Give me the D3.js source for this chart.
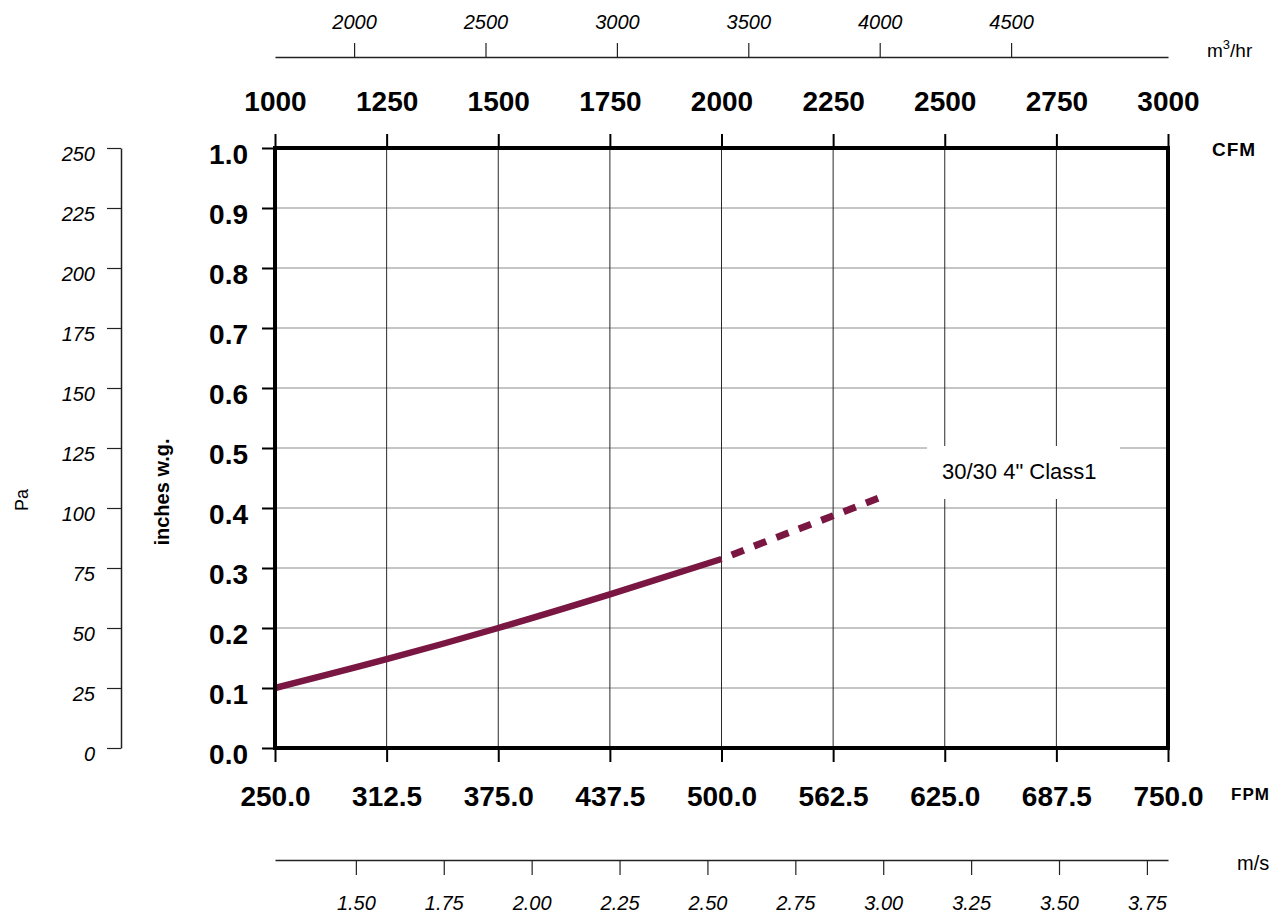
<!DOCTYPE html>
<html>
<head>
<meta charset="utf-8">
<script src="https://cdn.jsdelivr.net/npm/d3@7"></script>
<style>
  body { margin: 0; background: #fff; }
  svg text { font-family: "Liberation Sans", Arial, sans-serif; fill: #000; }
</style>
</head>
<body>
<div id="plotarea"></div>
<script>
// curve (FPM -> inches w.g.)
var fpmSolid = [250, 312.5, 375, 437.5, 500];
var inwgSolid = [0.100, 0.148, 0.200, 0.256, 0.315];
var fpmDashed = [500, 523, 562.5, 589];
var inwgDashed = [0.315, 0.342, 0.387, 0.418];
var seriesName = '30/30 4" Class1';

// tick labels
var cfmTicks = [1000, 1250, 1500, 1750, 2000, 2250, 2500, 2750, 3000];
var fpmTicks = [250, 312.5, 375, 437.5, 500, 562.5, 625, 687.5, 750];
var inwgTicks = [0, 0.1, 0.2, 0.3, 0.4, 0.5, 0.6, 0.7, 0.8, 0.9, 1.0];
var paTicks = [0, 25, 50, 75, 100, 125, 150, 175, 200, 225, 250];
var m3hTicks = [2000, 2500, 3000, 3500, 4000, 4500];
var msTicks = [1.50, 1.75, 2.00, 2.25, 2.50, 2.75, 3.00, 3.25, 3.50, 3.75];

var W = 1284, H = 917;
var pLeft = 275, pRight = 1168, pTop = 148, pBottom = 748;

var svg = d3.select("#plotarea").append("svg")
  .attr("width", W).attr("height", H);

var x = d3.scaleLinear().domain([250, 750]).range([pLeft, pRight]);
var xCfm = d3.scaleLinear().domain([1000, 3000]).range([pLeft, pRight]);
var xM3h = d3.scaleLinear().domain([1000 * 1.69901, 3000 * 1.69901]).range([pLeft, pRight]);
var xMs = d3.scaleLinear().domain([250 * 0.00508, 750 * 0.00508]).range([pLeft, pRight]);
var y = d3.scaleLinear().domain([0, 1]).range([pBottom, pTop]);
var yPa = d3.scaleLinear().domain([0, 250]).range([pBottom, pTop]);

// grid
svg.append("g").selectAll("line").data(inwgTicks).enter().append("line")
  .attr("x1", pLeft).attr("x2", pRight)
  .attr("y1", function(d) { return y(d); }).attr("y2", function(d) { return y(d); })
  .attr("stroke", "#8c8c8c").attr("stroke-width", 1);
svg.append("g").selectAll("line").data(cfmTicks).enter().append("line")
  .attr("x1", function(d) { return xCfm(d); }).attr("x2", function(d) { return xCfm(d); })
  .attr("y1", pTop).attr("y2", pBottom)
  .attr("stroke", "#2a2a2a").attr("stroke-width", 1);

// label box over the grid
svg.append("rect").attr("x", 927).attr("y", 446).attr("width", 193).attr("height", 53)
  .attr("fill", "#fff");
svg.append("text").attr("x", 942).attr("y", 479)
  .style("font-size", "22px").text(seriesName);

// curve
var line = d3.line()
  .x(function(d) { return x(d[0]); })
  .y(function(d) { return y(d[1]); })
  .curve(d3.curveMonotoneX);

svg.append("path").datum(d3.zip(fpmSolid, inwgSolid))
  .attr("d", line).attr("fill", "none")
  .attr("stroke", "#7a1642").attr("stroke-width", 6.5);
svg.append("path").datum(d3.zip(fpmDashed, inwgDashed))
  .attr("d", line).attr("fill", "none")
  .attr("stroke", "#7a1642").attr("stroke-width", 7)
  .attr("stroke-dasharray", "13,11").attr("stroke-dashoffset", 13);

// main axes
function bigAxis(g) {
  g.select(".domain").remove();
  g.selectAll(".tick line").attr("stroke", "#000").attr("stroke-width", 2);
  g.selectAll("text").style("font-size", "28px").style("font-weight", "bold");
}

svg.append("g").attr("transform", "translate(0," + pTop + ")")
  .call(d3.axisTop(xCfm).tickValues(cfmTicks).tickSize(14).tickSizeOuter(0).tickFormat(d3.format("d")))
  .call(bigAxis)
  .call(function(g) { g.selectAll("text").attr("y", -37).attr("dy", 0); });

svg.append("g").attr("transform", "translate(0," + pBottom + ")")
  .call(d3.axisBottom(x).tickValues(fpmTicks).tickSize(14).tickSizeOuter(0).tickFormat(d3.format(".1f")))
  .call(bigAxis)
  .call(function(g) { g.selectAll("text").attr("y", 58).attr("dy", 0); });

svg.append("g").attr("transform", "translate(" + pLeft + ",0)")
  .call(d3.axisLeft(y).tickValues(inwgTicks).tickSize(13).tickSizeOuter(0).tickFormat(d3.format(".1f")))
  .call(bigAxis)
  .call(function(g) { g.selectAll("text").attr("x", -27).attr("dy", 15); });

// frame
svg.append("rect").attr("x", pLeft).attr("y", pTop)
  .attr("width", pRight - pLeft).attr("height", pBottom - pTop)
  .attr("fill", "none").attr("stroke", "#000").attr("stroke-width", 4);

// secondary axes
function smallAxis(g) {
  g.select(".domain").attr("stroke", "#222").attr("stroke-width", 1.5);
  g.selectAll(".tick line").attr("stroke", "#222").attr("stroke-width", 1.2);
  g.selectAll("text").style("font-size", "20px").style("font-style", "italic");
}

svg.append("g").attr("transform", "translate(0,57)")
  .call(d3.axisTop(xM3h).tickValues(m3hTicks).tickSize(14).tickSizeOuter(0).tickFormat(d3.format("d")))
  .call(smallAxis)
  .call(function(g) { g.selectAll("text").attr("y", -28).attr("dy", 0); });

svg.append("g").attr("transform", "translate(0,860)")
  .call(d3.axisBottom(xMs).tickValues(msTicks).tickSize(15).tickSizeOuter(0).tickFormat(d3.format(".2f")))
  .call(smallAxis)
  .call(function(g) { g.selectAll("text").attr("y", 50).attr("dy", 0); });

svg.append("g").attr("transform", "translate(121,0)")
  .call(d3.axisLeft(yPa).tickValues(paTicks).tickSize(14).tickSizeOuter(0).tickFormat(d3.format("d")))
  .call(smallAxis)
  .call(function(g) { g.selectAll("text").attr("x", -26).attr("dy", 12); });

// unit labels
svg.append("text").attr("x", 1212).attr("y", 156)
  .style("font-size", "19px").style("font-weight", "bold").style("letter-spacing", "1px").text("CFM");
svg.append("text").attr("x", 1231).attr("y", 800)
  .style("font-size", "17px").style("font-weight", "bold").style("letter-spacing", "1px").text("FPM");
var m3 = svg.append("text").attr("x", 1207).attr("y", 57).style("font-size", "19px");
m3.append("tspan").text("m");
m3.append("tspan").attr("dy", -8).style("font-size", "13px").text("3");
m3.append("tspan").attr("dy", 8).text("/hr");
svg.append("text").attr("x", 1237).attr("y", 870).style("font-size", "20px").text("m/s");

svg.append("text").attr("transform", "translate(28,500) rotate(-90)")
  .attr("text-anchor", "middle").style("font-size", "18px").text("Pa");
svg.append("text").attr("transform", "translate(169,492) rotate(-90)")
  .attr("text-anchor", "middle").style("font-size", "20px").style("font-weight", "bold")
  .text("inches w.g.");
</script>
</body>
</html>
